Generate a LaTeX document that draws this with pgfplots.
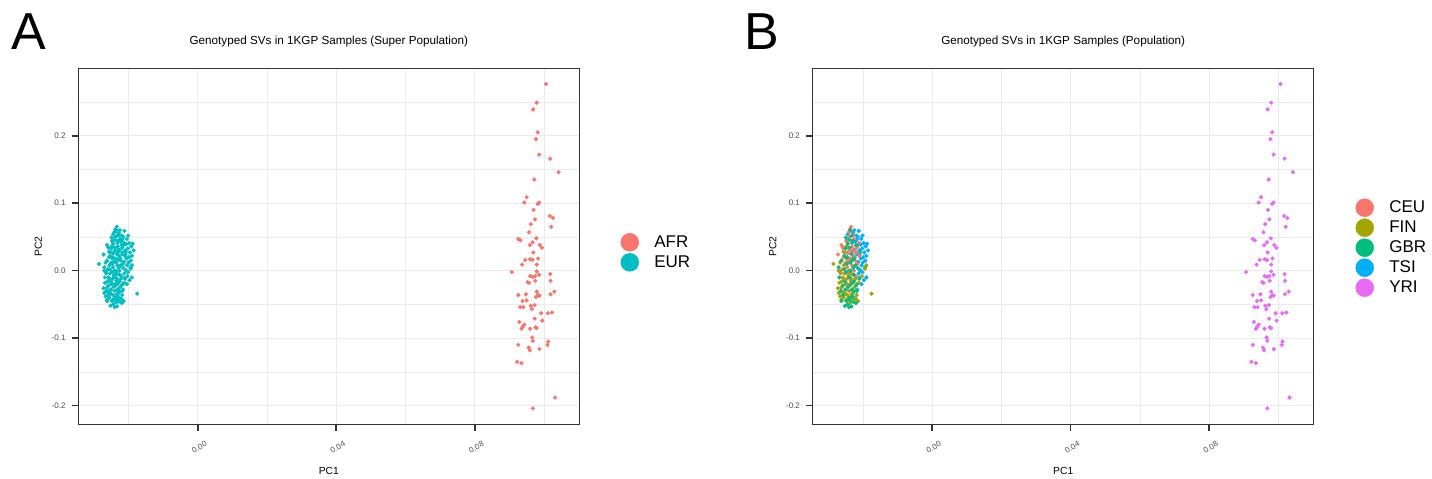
\documentclass[border=0pt]{standalone}
\usepackage{pgfplots}
\pgfplotsset{compat=1.18}
\usepackage{pgfplotstable}
\usepackage{fontspec}
\setmainfont{Liberation Sans}
\definecolor{cAFR}{HTML}{F8766D}
\definecolor{cEUR}{HTML}{00BFC4}
\definecolor{cCEU}{HTML}{F8766D}
\definecolor{cFIN}{HTML}{A3A500}
\definecolor{cGBR}{HTML}{00BF7D}
\definecolor{cTSI}{HTML}{00B0F6}
\definecolor{cYRI}{HTML}{E76BF3}
\definecolor{grey20}{HTML}{333333}
\definecolor{grey30}{HTML}{4D4D4D}
\definecolor{grid92}{HTML}{EBEBEB}

\pgfplotstableread{
x y
0.1006 0.2765
0.0979 0.249
0.0969 0.239
0.0982 0.205
0.0977 0.195
0.0986 0.172
0.1018 0.166
0.1042 0.146
0.0972 0.135
0.0950 0.109
0.0943 0.101
0.0986 0.101
0.0982 0.099
0.0970 0.090
0.1017 0.081
0.1026 0.078
0.0974 0.076
0.1021 0.065
0.0962 0.069
0.0957 0.057
0.0926 0.047
0.0932 0.045
0.0978 0.048
0.0967 0.042
0.0959 0.038
0.0988 0.038
0.0994 0.034
0.0969 0.027
0.0946 0.016
0.0960 0.017
0.0967 0.016
0.0983 0.018
0.0937 0.009
0.0979 0.009
0.0907 -0.002
0.0979 -0.001
0.0960 -0.008
0.0967 -0.009
0.0974 -0.008
0.0986 -0.006
0.1018 -0.005
0.0953 -0.017
0.0957 -0.018
0.0975 -0.015
0.1019 -0.015
0.0926 -0.036
0.0948 -0.035
0.0979 -0.031
0.0983 -0.036
0.0987 -0.037
0.0977 -0.039
0.1019 -0.035
0.1030 -0.031
0.0938 -0.045
0.0950 -0.044
0.0931 -0.054
0.0940 -0.054
0.0962 -0.052
0.0973 -0.051
0.0965 -0.057
0.0992 -0.063
0.1011 -0.063
0.1023 -0.062
0.0973 -0.071
0.0995 -0.074
0.0929 -0.076
0.0943 -0.080
0.0939 -0.083
0.0935 -0.086
0.0960 -0.086
0.0975 -0.084
0.0979 -0.085
0.0966 -0.099
0.0968 -0.104
0.1012 -0.105
0.1010 -0.110
0.0926 -0.110
0.0956 -0.114
0.0959 -0.118
0.0987 -0.116
0.0922 -0.135
0.0935 -0.137
0.1032 -0.188
0.0968 -0.204
}\afr

\pgfplotstableread{
x y
-0.0234 0.065
-0.0238 0.061
-0.0262 0.038
-0.0272 0.024
-0.0225 0.047
-0.0230 0.028
-0.0228 0.022
-0.0236 0.018
-0.0222 0.015
-0.0240 0.030
-0.0250 0.012
-0.0245 0.005
-0.0232 0.008
-0.0218 0.034
-0.0212 0.041
-0.0248 0.044
-0.0256 0.020
-0.0226 0.000
-0.0242 -0.006
-0.0255 -0.012
-0.0238 -0.020
-0.0220 -0.008
-0.0260 0.002
-0.0231 0.036
-0.0227 0.053
-0.0252 -0.028
-0.0234 -0.035
-0.0244 0.026
-0.0216 0.010
-0.0264 -0.004
-0.0238 0.050
-0.0210 0.022
-0.0246 0.036
-0.0233 0.044
-0.0241 0.014
-0.0229 0.031
-0.0251 0.027
-0.0237 -0.002
-0.0247 -0.019
-0.0224 0.007
-0.0258 0.034
-0.0233 -0.012
-0.0219 0.027
-0.0241 0.057
}\ceu

\pgfplotstableread{
x y
-0.0238 0.058
-0.0244 0.054
-0.0228 0.056
-0.0215 0.050
-0.0205 0.047
-0.0198 0.041
-0.0192 0.036
-0.0202 0.033
-0.0210 0.030
-0.0196 0.027
-0.0188 0.040
-0.0190 0.022
-0.0206 0.018
-0.0214 0.038
-0.0222 0.043
-0.0200 0.012
-0.0194 0.005
-0.0208 0.001
-0.0190 -0.010
-0.0197 -0.014
-0.0212 -0.004
-0.0218 0.024
-0.0226 0.031
-0.0204 -0.020
-0.0216 -0.028
-0.0222 -0.041
-0.0232 0.041
-0.0185 0.030
-0.0201 0.052
-0.0212 0.059
-0.0218 0.046
-0.0207 0.039
-0.0199 0.020
-0.0213 0.013
-0.0204 0.008
-0.0211 -0.011
-0.0201 -0.002
-0.0219 0.052
-0.0225 0.060
-0.0193 0.015
-0.0209 0.024
-0.0217 -0.020
}\tsi

\pgfplotstableread{
x y
-0.0175 -0.034
-0.0190 0.008
-0.0194 0.003
-0.0285 0.010
-0.0265 -0.002
-0.0258 -0.010
-0.0268 -0.018
-0.0262 -0.025
-0.0270 -0.033
-0.0255 -0.040
-0.0248 -0.045
-0.0240 -0.030
-0.0235 -0.015
-0.0250 -0.020
-0.0245 -0.036
-0.0230 -0.042
-0.0225 -0.025
-0.0218 -0.036
-0.0212 -0.018
-0.0222 -0.012
-0.0240 0.000
-0.0255 0.008
-0.0232 -0.005
-0.0266 0.012
-0.0258 -0.032
-0.0236 -0.047
-0.0228 -0.033
-0.0246 -0.012
-0.0272 -0.026
-0.0262 -0.043
-0.0203 -0.008
-0.0214 -0.045
-0.0256 0.028
-0.0248 0.036
-0.0261 -0.016
-0.0253 -0.004
-0.0243 -0.043
-0.0238 -0.022
-0.0266 -0.038
-0.0251 -0.034
-0.0233 -0.038
-0.0221 -0.042
-0.0229 -0.018
-0.0270 0.000
-0.0247 0.018
-0.0242 -0.008
}\fin

\pgfplotstableread{
x y
-0.0240 0.046
-0.0232 0.052
-0.0250 0.033
-0.0245 0.020
-0.0236 0.012
-0.0228 0.004
-0.0248 -0.002
-0.0238 -0.010
-0.0226 -0.016
-0.0252 -0.016
-0.0243 -0.024
-0.0232 -0.028
-0.0220 -0.022
-0.0258 -0.036
-0.0240 -0.040
-0.0228 -0.046
-0.0233 -0.053
-0.0244 -0.050
-0.0262 -0.045
-0.0218 -0.030
-0.0210 -0.012
-0.0215 0.004
-0.0224 0.019
-0.0234 0.025
-0.0254 0.002
-0.0262 0.015
-0.0270 0.005
-0.0268 -0.010
-0.0230 -0.038
-0.0250 -0.028
-0.0236 0.000
-0.0222 0.008
-0.0244 0.040
-0.0220 0.038
-0.0208 0.028
-0.0252 -0.052
-0.0238 -0.043
-0.0226 -0.006
-0.0246 0.010
-0.0230 0.016
-0.0253 0.022
-0.0238 0.034
-0.0229 0.044
-0.0258 -0.022
-0.0234 -0.020
-0.0226 -0.031
-0.0247 -0.044
-0.0240 -0.054
-0.0220 -0.048
-0.0264 -0.030
-0.0249 0.049
-0.0236 0.060
}\gbr

\pgfplotsset{
  pca/.style={
    scale only axis, width=501pt, height=356pt,
    xmin=-0.0345, xmax=0.1102, ymin=-0.2276, ymax=0.2999,
    axis line style={draw=grey20, line width=1.2pt},
    xtick={0,0.04,0.08}, xticklabels={0.00,0.04,0.08},
    ytick={-0.2,-0.1,0,0.1,0.2}, yticklabels={-0.2,-0.1,0.0,0.1,0.2},
    minor xtick={-0.02,0.02,0.06,0.10},
    minor ytick={-0.15,-0.05,0.05,0.15,0.25},
    grid=both,
    major grid style={draw=grid92, line width=1.2pt},
    minor grid style={draw=grid92, line width=0.6pt},
    tick align=outside, major tick length=6.6pt, minor tick length=0pt,
    xtick pos=left, ytick pos=left,
    major tick style={draw=grey20, line width=1.6pt},
    tick label style={font=\fontsize{8}{9}\selectfont, text=grey30, inner sep=0pt},
    xticklabel style={xshift=1.5pt, yshift=-16.3pt, rotate=30, anchor=center},
    yticklabel style={anchor=east, xshift=-6pt},
    title style={at={(axis description cs:0.5,1.059)}, anchor=center, font=\fontsize{11.7}{13}\selectfont},
    xlabel style={at={(axis description cs:0.5,-0.1303)}, anchor=center, font=\fontsize{10.3}{12}\selectfont},
    ylabel style={at={(axis description cs:-0.0798,0.5)}, anchor=center, font=\fontsize{10.3}{12}\selectfont},
    xlabel={PC1}, ylabel={PC2},
    legend cell align=left,
    legend image code/.code={\draw[##1] plot coordinates {(0pt,0pt)};},
    legend style={anchor=north west, draw=none, fill=none, inner sep=0pt, outer sep=0pt,
      row sep=2pt, column sep=15.6pt, font=\fontsize{17}{18}\selectfont, nodes={inner sep=0pt}},
  },
  pts/.style={only marks, mark=*, mark size=1.9pt, color=#1, mark options={draw=none, fill=#1}},
  key/.style={only marks, mark=*, mark size=9pt, color=#1, mark options={draw=none, fill=#1}},
}

\begin{document}
\begin{tikzpicture}
\useasboundingbox (0,0) rectangle (1432pt,479pt);
\fill[white] (0,0) rectangle (1432pt,479pt);
\node[anchor=base west, inner sep=0pt, font=\fontsize{52}{60}\selectfont] at (11pt,429pt) {A};
\node[anchor=base west, inner sep=0pt, font=\fontsize{52}{60}\selectfont] at (744pt,429pt) {B};

\begin{axis}[pca, at={(78.3pt,54.7pt)}, anchor=south west,
  title={Genotyped SVs in 1KGP Samples (Super Population)},
  legend style={at={(axis description cs:1.0828,0.5365)}}]
\addplot[pts=cAFR, forget plot] table[x=x,y=y] {\afr};
\addplot[pts=cEUR, forget plot] table[x=x,y=y] {\fin};
\addplot[pts=cEUR, forget plot] table[x=x,y=y] {\ceu};
\addplot[pts=cEUR, forget plot] table[x=x,y=y] {\tsi};
\addplot[pts=cEUR, forget plot] table[x=x,y=y] {\gbr};
\addlegendimage{key=cAFR}
\addlegendentry{AFR}
\addlegendimage{key=cEUR}
\addlegendentry{EUR}
\end{axis}

\begin{axis}[pca, at={(812.7pt,54.7pt)}, anchor=south west,
  title={Genotyped SVs in 1KGP Samples (Population)},
  legend style={at={(axis description cs:1.0839,0.6337)}}]
\addplot[pts=cYRI, forget plot] table[x=x,y=y] {\afr};
\addplot[pts=cTSI, forget plot] table[x=x,y=y] {\tsi};
\addplot[pts=cCEU, forget plot] table[x=x,y=y] {\ceu};
\addplot[pts=cFIN, forget plot] table[x=x,y=y] {\fin};
\addplot[pts=cGBR, forget plot] table[x=x,y=y] {\gbr};
\addlegendimage{key=cCEU}
\addlegendentry{CEU}
\addlegendimage{key=cFIN}
\addlegendentry{FIN}
\addlegendimage{key=cGBR}
\addlegendentry{GBR}
\addlegendimage{key=cTSI}
\addlegendentry{TSI}
\addlegendimage{key=cYRI}
\addlegendentry{YRI}
\end{axis}
\end{tikzpicture}
\end{document}
